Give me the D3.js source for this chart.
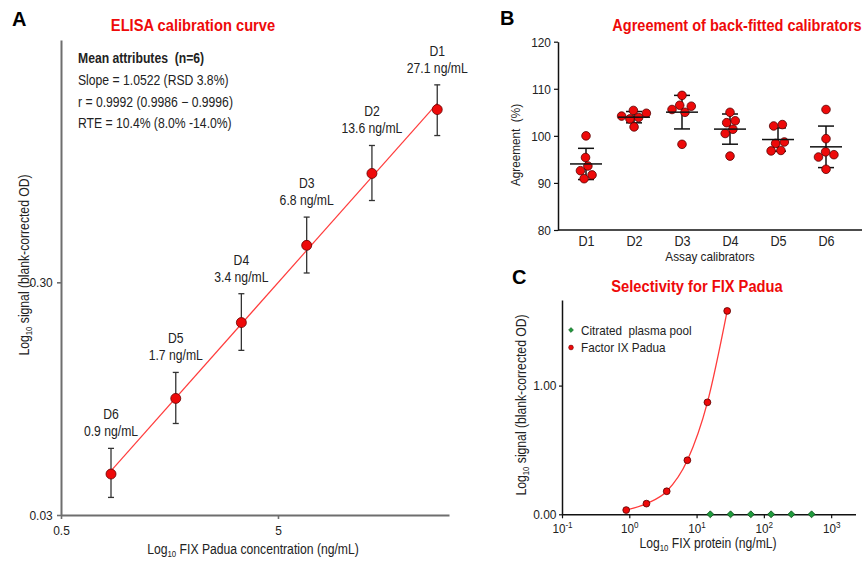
<!DOCTYPE html>
<html>
<head>
<meta charset="utf-8">
<script src="https://cdn.jsdelivr.net/npm/d3@7"></script>
<style>
  body { margin: 0; background: #fff; }
  svg { font-family: "Liberation Sans", Arial, sans-serif; }
</style>
</head>
<body>
<div id="chart"></div>
<script>
/* DATA */
// panel A - calibration curve (means of n=6, with ranges)
const calibrators = ["D1", "D2", "D3", "D4", "D5", "D6"];
const calConc = [27.1, 13.55, 6.78, 3.39, 1.69, 0.85];
const calConcLabels = ["27.1 ng/mL", "13.6 ng/mL", "6.8 ng/mL", "3.4 ng/mL", "1.7 ng/mL", "0.9 ng/mL"];
const calSignal = [1.658, 0.881, 0.4325, 0.2014, 0.0951, 0.045];
const calLow = [1.282, 0.674, 0.329, 0.153, 0.0742, 0.0357];
const calHigh = [2.117, 1.162, 0.572, 0.268, 0.123, 0.058];
const statLines = ["Slope = 1.0522 (RSD 3.8%)", "r = 0.9992 (0.9986 \u2212 0.9996)", "RTE = 10.4% (8.0% -14.0%)"];
const aTicksX = [0.5, 5];
const aTicksY = [0.03, 0.3];

// panel B - back-fitted agreement (%), one row per calibrator
const agreement = [
  [100.0, 95.4, 93.6, 92.6, 91.7, 90.9],
  [105.4, 103.9, 104.2, 103.6, 104.8, 101.9],
  [108.6, 106.5, 106.3, 105.6, 105.0, 98.2],
  [105.0, 102.8, 103.2, 101.4, 100.5, 95.7],
  [102.1, 102.4, 98.4, 98.7, 96.8, 96.9],
  [105.6, 99.4, 96.0, 96.6, 95.5, 92.9]
];
const bTicksY = [80, 90, 100, 110, 120];

// panel C - selectivity
const padConc = [0.9, 1.8, 3.6, 7.3, 14.5, 28.5];
const padSignal = [0.033, 0.083, 0.179, 0.42, 0.87, 1.58];
const plasmaConc = [16, 32, 64, 128, 256, 512];
const plasmaSignal = [0, 0, 0, 0, 0, 0];
const cTicksX = [0.1, 1, 10, 100, 1000];
const cTicksY = [0, 1];

/* CONSTANTS */
const width = 865, height = 561;
const SX = 0.87;        // narrow font look
const RED = "#ee0a0a";
const GREEN = "#1f9a3c";
const TXT = "#222";

const svg = d3.select("#chart").append("svg")
  .attr("width", width)
  .attr("height", height);

// text helper, squeezed horizontally
function txt(g, x, y, s, o = {}) {
  return g.append("text")
    .attr("transform", `translate(${x},${y})${o.rot ? ` rotate(${o.rot})` : ""} scale(${o.sx ?? SX},1)`)
    .attr("font-size", o.size ?? 14)
    .attr("font-weight", o.bold ? "bold" : null)
    .attr("fill", o.fill ?? TXT)
    .attr("text-anchor", o.anchor ?? "start")
    .style("white-space", "pre")
    .text(s);
}

// "Log10 ..." label with subscript
function logLabel(g, x, y, rest, rot) {
  const t = txt(g, x, y, "Log", {anchor: "middle", rot: rot});
  t.append("tspan").attr("font-size", 9).attr("dy", 3).text("10");
  t.append("tspan").attr("dy", -3).text(" " + rest);
  return t;
}

function styleAxis(g, stroke, sw, fs, sx) {
  g.select(".domain").attr("stroke", stroke).attr("stroke-width", sw);
  g.selectAll(".tick line").attr("stroke", stroke).attr("stroke-width", sw * 0.8);
  g.selectAll(".tick text")
    .attr("font-size", fs)
    .attr("font-family", null)
    .attr("fill", TXT)
    .attr("transform", `scale(${sx},1)`);
}

// rotated square, as in the original plot
const diamondPath = s => d3.symbol().type(d3.symbolSquare).size(s)();

/* PANEL A */
const gA = svg.append("g");
const xA = d3.scaleLog().domain([0.5, 30.7]).range([61, 449]);
const yA = d3.scaleLog().domain([0.03, 3.3]).range([515, 40]);

gA.append("g")
  .attr("transform", `translate(0,${yA.range()[0]})`)
  .call(d3.axisBottom(xA).tickValues(aTicksX).tickFormat(d => d).tickSize(4).tickSizeOuter(0).tickPadding(7))
  .call(g => styleAxis(g, "#6e6e6e", 2, 13, 0.92));

gA.append("g")
  .attr("transform", `translate(${xA.range()[0]},0)`)
  .call(d3.axisLeft(yA).tickValues(aTicksY).tickFormat(d3.format(".2f")).tickSize(4).tickSizeOuter(0).tickPadding(5))
  .call(g => styleAxis(g, "#6e6e6e", 2, 13, 0.92));

// least squares fit in log-log space
const lx = calConc.map(Math.log10), ly = calSignal.map(Math.log10);
const mx = d3.mean(lx), my = d3.mean(ly);
const slope = d3.sum(lx, (v, i) => (v - mx) * (ly[i] - my)) / d3.sum(lx, v => (v - mx) ** 2);
const icpt = my - slope * mx;
const fitX = d3.extent(calConc);
gA.append("path")
  .datum(fitX)
  .attr("fill", "none")
  .attr("stroke", "#ff3b3b")
  .attr("stroke-width", 1.2)
  .attr("d", d3.line().x(d => xA(d)).y(d => yA(10 ** (icpt + slope * Math.log10(d)))));

const calPts = calibrators.map((c, i) => ({name: c, conc: calConc[i], lab: calConcLabels[i], y: calSignal[i], lo: calLow[i], hi: calHigh[i]}));

const eb = gA.selectAll(".eb").data(calPts).join("g").attr("class", "eb")
  .attr("stroke", "#333").attr("stroke-width", 1.3);
eb.append("line").attr("x1", d => xA(d.conc)).attr("x2", d => xA(d.conc)).attr("y1", d => yA(d.lo)).attr("y2", d => yA(d.hi));
eb.append("line").attr("x1", d => xA(d.conc) - 3).attr("x2", d => xA(d.conc) + 3).attr("y1", d => yA(d.lo)).attr("y2", d => yA(d.lo));
eb.append("line").attr("x1", d => xA(d.conc) - 3).attr("x2", d => xA(d.conc) + 3).attr("y1", d => yA(d.hi)).attr("y2", d => yA(d.hi));

gA.selectAll(".pt").data(calPts).join("circle").attr("class", "pt")
  .attr("cx", d => xA(d.conc)).attr("cy", d => yA(d.y)).attr("r", 5)
  .attr("fill", RED).attr("stroke", "#600").attr("stroke-width", 0.8);

calPts.forEach(d => {
  txt(gA, xA(d.conc), yA(d.hi) - 29, d.name, {anchor: "middle"});
  txt(gA, xA(d.conc), yA(d.hi) - 12, d.lab, {anchor: "middle"});
});

txt(gA, 78, 63, "Mean attributes  (n=6)", {bold: true});
statLines.forEach((s, i) => txt(gA, 78, 85 + i * 21.5, s));

txt(gA, 12, 26, "A", {bold: true, size: 20, sx: 1, fill: "#000"});
txt(gA, 193, 30.5, "ELISA calibration curve", {bold: true, size: 17, anchor: "middle", fill: RED, sx: 0.865});
logLabel(gA, 29, 265, "signal (blank-corrected OD)", -90);
logLabel(gA, 253, 554, "FIX Padua concentration (ng/mL)");

/* PANEL B */
const gB = svg.append("g");
const xB = d3.scalePoint().domain(calibrators).range([586, 826]);
const yB = d3.scaleLinear().domain([80, 120]).range([230, 41.7]);

gB.append("g")
  .attr("transform", `translate(558,0)`)
  .call(d3.axisLeft(yB).tickValues(bTicksY).tickSize(4).tickSizeOuter(0).tickPadding(4))
  .call(g => styleAxis(g, "#111", 1.5, 13.5, 0.88));

gB.append("g")
  .attr("transform", `translate(0,230)`)
  .call(d3.axisBottom(xB).tickSize(0).tickPadding(6))
  .call(g => styleAxis(g, "#111", 1.5, 14, 0.9))
  .call(g => g.select(".domain").remove());
gB.append("line").attr("x1", 558).attr("x2", 862).attr("y1", 230).attr("y2", 230)
  .attr("stroke", "#111").attr("stroke-width", 1.5);

// beeswarm placement
const bNodes = [];
calibrators.forEach((c, i) => agreement[i].forEach(v => bNodes.push({cat: c, v: v, cx: xB(c), x: xB(c), y: yB(v), fy: yB(v)})));
d3.forceSimulation(bNodes)
  .force("x", d3.forceX(d => d.cx).strength(0.15))
  .force("collide", d3.forceCollide(4.4))
  .stop()
  .tick(300);

const bStats = calibrators.map((c, i) => ({cat: c, m: d3.mean(agreement[i]), sd: d3.deviation(agreement[i])}));
const sg = gB.selectAll(".sd").data(bStats).join("g").attr("class", "sd")
  .attr("stroke", "#111").attr("stroke-width", 1.5);
sg.append("line").attr("x1", d => xB(d.cat)).attr("x2", d => xB(d.cat)).attr("y1", d => yB(d.m - d.sd)).attr("y2", d => yB(d.m + d.sd));
sg.append("line").attr("x1", d => xB(d.cat) - 8).attr("x2", d => xB(d.cat) + 8).attr("y1", d => yB(d.m - d.sd)).attr("y2", d => yB(d.m - d.sd));
sg.append("line").attr("x1", d => xB(d.cat) - 8).attr("x2", d => xB(d.cat) + 8).attr("y1", d => yB(d.m + d.sd)).attr("y2", d => yB(d.m + d.sd));

gB.selectAll(".dot").data(bNodes).join("circle").attr("class", "dot")
  .attr("cx", d => d.x).attr("cy", d => d.y).attr("r", 4.3)
  .attr("fill", RED).attr("stroke", "#500").attr("stroke-width", 0.8);

// mean lines on top
gB.selectAll(".mean").data(bStats).join("line").attr("class", "mean")
  .attr("x1", d => xB(d.cat) - 16).attr("x2", d => xB(d.cat) + 16)
  .attr("y1", d => yB(d.m)).attr("y2", d => yB(d.m))
  .attr("stroke", "#111").attr("stroke-width", 1.5);

txt(gB, 500, 25, "B", {bold: true, size: 20, sx: 1, fill: "#000"});
txt(gB, 737, 30.5, "Agreement of back-fitted calibrators", {bold: true, size: 17, anchor: "middle", fill: RED, sx: 0.855});
txt(gB, 520, 145, "Agreement  (%)", {anchor: "middle", rot: -90, size: 13.5});
txt(gB, 710, 261, "Assay calibrators", {anchor: "middle", size: 13.5});

/* PANEL C */
const gC = svg.append("g");
const xC = d3.scaleLog().domain([0.1, 2300]).range([562, 855.5]);
const yC = d3.scaleLinear().domain([0, 1.665]).range([514.3, 300]);

gC.append("g")
  .attr("transform", `translate(0,514.3)`)
  .call(d3.axisBottom(xC).tickValues(cTicksX).tickSize(4).tickSizeOuter(0).tickPadding(5))
  .call(g => styleAxis(g, "#111", 1.5, 13, 0.9))
  .call(g => g.selectAll(".tick text").each(function(d) {
    const t = d3.select(this).text("10");
    t.append("tspan").attr("font-size", 9).attr("dy", -5).text(Math.round(Math.log10(d)));
  }));

gC.append("g")
  .attr("transform", `translate(562,0)`)
  .call(d3.axisLeft(yC).tickValues(cTicksY).tickFormat(d3.format(".2f")).tickSize(3).tickSizeOuter(0).tickPadding(3))
  .call(g => styleAxis(g, "#111", 1.5, 13, 0.92));

const padPts = padConc.map((c, i) => ({x: c, y: padSignal[i]}));
const plasmaPts = plasmaConc.map((c, i) => ({x: c, y: plasmaSignal[i]}));

gC.append("path")
  .datum(padPts)
  .attr("fill", "none")
  .attr("stroke", "#ff3b3b")
  .attr("stroke-width", 1.3)
  .attr("d", d3.line().x(d => xC(d.x)).y(d => yC(d.y)).curve(d3.curveMonotoneX));

gC.selectAll(".pad").data(padPts).join("circle").attr("class", "pad")
  .attr("cx", d => xC(d.x)).attr("cy", d => yC(d.y)).attr("r", 3.4)
  .attr("fill", RED).attr("stroke", "#500").attr("stroke-width", 0.8);

gC.selectAll(".pl").data(plasmaPts).join("path").attr("class", "pl")
  .attr("transform", d => `translate(${xC(d.x)},${yC(d.y)}) rotate(45)`)
  .attr("d", diamondPath(24))
  .attr("fill", GREEN).attr("stroke", "#0b4a18").attr("stroke-width", 0.7);

// legend
gC.append("path").attr("transform", "translate(571,330) rotate(45)")
  .attr("d", diamondPath(12))
  .attr("fill", GREEN).attr("stroke", "#0b4a18").attr("stroke-width", 0.5);
txt(gC, 581, 334.5, "Citrated  plasma pool", {size: 13, sx: 0.9});
gC.append("circle").attr("cx", 571).attr("cy", 347.5).attr("r", 2.4)
  .attr("fill", RED).attr("stroke", "#500").attr("stroke-width", 0.5);
txt(gC, 581, 352, "Factor IX Padua", {size: 13, sx: 0.9});

txt(gC, 512, 284, "C", {bold: true, size: 20, sx: 1, fill: "#000"});
txt(gC, 697, 292, "Selectivity for FIX Padua", {bold: true, size: 17, anchor: "middle", fill: RED, sx: 0.865});
logLabel(gC, 526, 405, "signal (blank-corrected OD)", -90);
logLabel(gC, 708, 548, "FIX protein (ng/mL)");
</script>
</body>
</html>
